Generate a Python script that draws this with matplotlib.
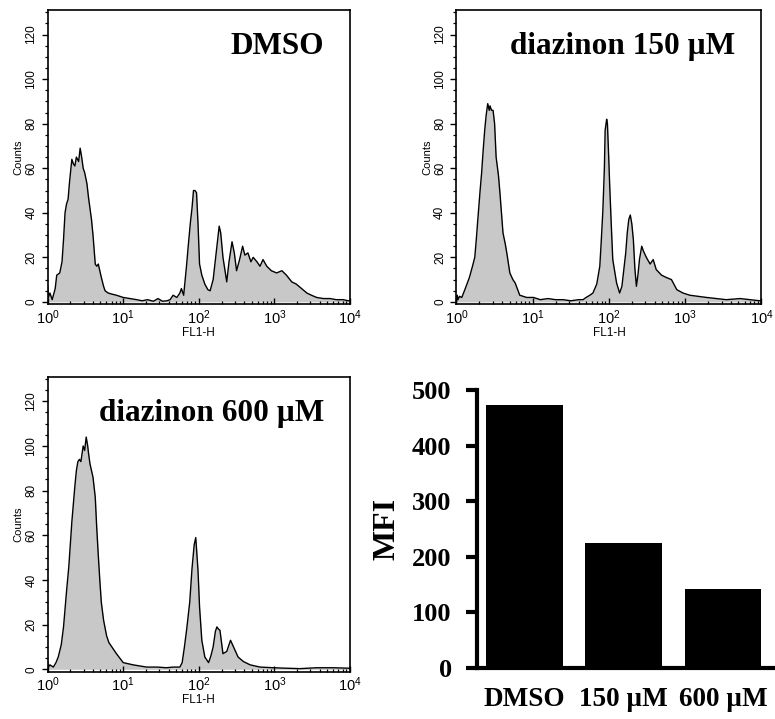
import numpy as np
import matplotlib
matplotlib.use("Agg")
import matplotlib.pyplot as plt
from matplotlib.ticker import MultipleLocator, LogLocator, NullFormatter

plt.rcParams['font.family'] = ['Liberation Sans', 'DejaVu Sans']
plt.rcParams['mathtext.default'] = 'regular'

dmso_pos = [0.00, 0.01, 0.03, 0.06, 0.10, 0.12, 0.16, 0.19, 0.21, 0.23, 0.25, 0.27, 0.29,
            0.32, 0.34, 0.36, 0.38, 0.41, 0.43, 0.45, 0.47, 0.49, 0.52, 0.54, 0.56, 0.58,
            0.60, 0.63, 0.65, 0.67, 0.69, 0.71, 0.74, 0.76, 0.80, 0.85, 0.91, 1.00, 1.09,
            1.18, 1.25, 1.32, 1.40, 1.46, 1.52, 1.58, 1.62, 1.66, 1.71, 1.75, 1.77, 1.80,
            1.82, 1.84, 1.86, 1.89, 1.91, 1.93, 1.95, 1.97, 1.99, 2.01, 2.04, 2.08, 2.12,
            2.15, 2.19, 2.23, 2.27, 2.29, 2.32, 2.37, 2.40, 2.44, 2.47, 2.50, 2.54, 2.58,
            2.61, 2.65, 2.69, 2.72, 2.77, 2.81, 2.85, 2.90, 2.96, 3.03, 3.10, 3.16, 3.23,
            3.29, 3.36, 3.43, 3.49, 3.56, 3.65, 3.74, 3.82, 3.91, 3.98, 4.00]
dmso_cnt = [7, 2, 4, 1, 6, 12, 13, 18, 28, 40, 44, 46, 54,
            64, 62, 61, 65, 63, 69, 65, 60, 58, 53, 47, 42, 37,
            30, 17, 16, 17, 14, 11, 7, 5, 4, 3.5, 3, 2, 1.5,
            1, 0.5, 1, 0.3, 1.5, 0.3, 0.5, 1, 3, 2, 4, 6, 3,
            10, 17, 25, 36, 42, 50, 50, 49, 35, 17, 12, 8, 5.5,
            5, 10, 22, 34, 31, 20, 9, 18, 27, 22, 14, 19, 25,
            21, 22, 18, 20, 18, 16, 19, 16, 14, 13, 14, 12, 9,
            8, 6, 4, 3, 2, 1.5, 1.5, 1, 1, 0.5, 0.5]

d150_pos = [0.00, 0.01, 0.02, 0.04, 0.07, 0.11, 0.17, 0.21, 0.24, 0.26, 0.28, 0.31, 0.33,
            0.35, 0.37, 0.39, 0.41, 0.43, 0.44, 0.46, 0.48, 0.50, 0.52, 0.55, 0.57, 0.59,
            0.61, 0.64, 0.66, 0.70, 0.74, 0.77, 0.83, 0.92, 1.01, 1.10, 1.20, 1.30, 1.40,
            1.50, 1.60, 1.66, 1.70, 1.75, 1.79, 1.84, 1.88, 1.90, 1.92, 1.94, 1.95, 1.97,
            1.98, 2.00, 2.01, 2.03, 2.05, 2.10, 2.14, 2.17, 2.19, 2.22, 2.24, 2.26, 2.28,
            2.30, 2.32, 2.34, 2.36, 2.38, 2.40, 2.43, 2.45, 2.49, 2.54, 2.58, 2.62, 2.69,
            2.75, 2.82, 2.89, 2.97, 3.06, 3.17, 3.28, 3.41, 3.54, 3.72, 3.85, 3.98, 4.00]
d150_cnt = [0, 3, 1, 2.5, 2, 5.5, 11, 16, 20, 28, 37, 50, 58,
            68, 77, 84, 89, 86, 88, 86, 86, 80, 65, 57, 49, 40,
            31, 26, 22, 13, 10, 8.5, 3, 2, 2, 1, 1.5, 1, 1,
            0.5, 1, 1, 2, 3, 4, 8, 16, 28, 41, 60, 77, 82,
            80, 62, 52, 35, 19, 8.5, 4, 7, 13, 22, 31, 37, 39,
            35, 28, 15, 7, 12, 19, 25, 23, 20, 17, 19, 14.5, 12,
            11, 10, 5.5, 4, 3, 2.5, 2, 1.5, 1, 1.5, 1, 0.5, 0.5]

d600_pos = [0.00, 0.01, 0.03, 0.075, 0.11, 0.14, 0.18, 0.21, 0.23, 0.25, 0.28, 0.30, 0.32,
            0.34, 0.36, 0.38, 0.40, 0.42, 0.44, 0.47, 0.49, 0.51, 0.53, 0.54, 0.56, 0.58,
            0.60, 0.63, 0.65, 0.67, 0.69, 0.71, 0.74, 0.78, 0.81, 0.85, 0.91, 1.00, 1.13,
            1.31, 1.45, 1.57, 1.66, 1.75, 1.78, 1.81, 1.84, 1.88, 1.91, 1.94, 1.96, 1.99,
            2.01, 2.04, 2.08, 2.13, 2.16, 2.19, 2.22, 2.24, 2.26, 2.28, 2.32, 2.37, 2.40,
            2.42, 2.46, 2.52, 2.59, 2.68, 2.81, 2.99, 3.15, 3.34, 3.56, 3.78, 3.98, 4.00]
d600_cnt = [3.5, 1, 2, 1, 3, 5.5, 11, 19, 27, 35, 46, 56, 66,
            74, 82, 89, 93, 94, 93, 100, 98, 104, 100, 97, 92, 89,
            86, 77, 63, 51, 40, 30, 22, 15, 12, 10, 7, 3, 2,
            1, 1, 0.7, 1, 1, 3, 10, 18, 30, 45, 56, 59, 44,
            28, 13, 5.5, 3, 6, 10, 17, 19, 18, 17.5, 7, 8, 11,
            13, 10, 5.5, 3.5, 2, 1, 0.7, 0.5, 0.3, 0.7, 0.7, 0.5, 0.5]

bar_labels = ['DMSO', '150 µM', '600 µM']
mfi = [474, 224, 142]

panel_titles = ['DMSO', 'diazinon 150 µM', 'diazinon 600 µM']
hist_data = [(dmso_pos, dmso_cnt), (d150_pos, d150_cnt), (d600_pos, d600_cnt)]

fig = plt.figure(figsize=(7.75, 7.19), dpi=100)

hist_axes = [
    fig.add_axes([0.0615, 0.577, 0.390, 0.409]),
    fig.add_axes([0.589, 0.577, 0.3935, 0.409]),
    fig.add_axes([0.0615, 0.066, 0.390, 0.410]),
]

serif_bold = dict(family=['Liberation Serif', 'DejaVu Serif'], weight='bold')

for ax, (pos, cnt), title in zip(hist_axes, hist_data, panel_titles):
    x = 10 ** np.array(pos)
    ax.fill_between(x, cnt, 0, color='#c8c8c8', lw=0)
    ax.plot(x, cnt, color='black', lw=1.0)
    ax.set_xscale('log')
    ax.set_xlim(1, 1e4)
    ax.set_ylim(-1, 131)
    ax.yaxis.set_major_locator(MultipleLocator(20))
    ax.yaxis.set_minor_locator(MultipleLocator(5))
    ax.xaxis.set_major_locator(LogLocator(base=10, numticks=10))
    ax.xaxis.set_minor_locator(LogLocator(base=10, subs=np.arange(2, 10), numticks=50))
    ax.xaxis.set_minor_formatter(NullFormatter())
    ax.tick_params(axis='x', which='major', direction='in', length=4, width=1, labelsize=10.5, pad=3)
    ax.tick_params(axis='x', which='minor', direction='in', length=2.5, width=0.9)
    ax.tick_params(axis='y', which='major', direction='out', length=4.5, width=1, labelsize=8.5,
                   labelrotation=90, pad=3)
    ax.tick_params(axis='y', which='minor', direction='out', length=2.5, width=0.9)
    for lbl in ax.get_yticklabels():
        lbl.set_va('center')
    for sp in ax.spines.values():
        sp.set_linewidth(1.2)
    ax.set_ylabel('Counts', fontsize=8, labelpad=1)
    ax.set_xlabel('FL1-H', fontsize=8.5, labelpad=0)
    ax.text(0.915, 0.85, title, transform=ax.transAxes, ha='right', va='baseline',
            fontsize=22.5, **serif_bold)

# MFI bar chart
bx = fig.add_axes([0.615, 0.0713, 0.3823, 0.386])
bx.bar(np.arange(len(mfi)), mfi, width=0.77, color='black')
bx.set_xlim(-0.48, 2.5)
bx.set_ylim(0, 500)
bx.set_yticks([0, 100, 200, 300, 400, 500])
bx.set_xticks(np.arange(len(mfi)))
bx.set_xticklabels(bar_labels)
for sp in ['top', 'right']:
    bx.spines[sp].set_visible(False)
for sp in ['left', 'bottom']:
    bx.spines[sp].set_linewidth(3)
bx.tick_params(axis='y', direction='out', length=8, width=3, pad=10)
bx.tick_params(axis='x', length=0, pad=14)
for lbl in bx.get_yticklabels():
    lbl.set_fontfamily(['Liberation Serif', 'DejaVu Serif'])
    lbl.set_fontweight('bold')
    lbl.set_fontsize(19)
for lbl in bx.get_xticklabels():
    lbl.set_fontfamily(['Liberation Serif', 'DejaVu Serif'])
    lbl.set_fontweight('bold')
    lbl.set_fontsize(19.5)
bx.set_ylabel('MFI', fontsize=23, **serif_bold)
bx.yaxis.set_label_coords(-0.255, 0.5)

fig.savefig('out.png', dpi=100)
